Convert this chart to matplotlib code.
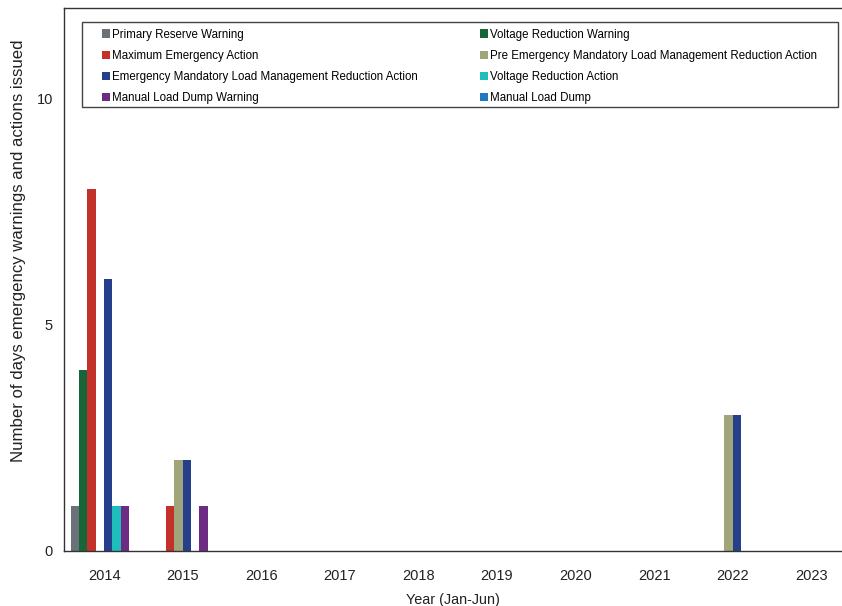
import matplotlib.pyplot as plt
from matplotlib.patches import Rectangle
import numpy as np

plt.rcParams["font.family"] = ["Liberation Sans", "DejaVu Sans"]

years = ["2014", "2015", "2016", "2017", "2018", "2019", "2020", "2021", "2022", "2023"]

series_names = [
    "Primary Reserve Warning",
    "Voltage Reduction Warning",
    "Maximum Emergency Action",
    "Pre Emergency Mandatory Load Management Reduction Action",
    "Emergency Mandatory Load Management Reduction Action",
    "Voltage Reduction Action",
    "Manual Load Dump Warning",
    "Manual Load Dump",
]

primary_reserve_warning = [1, 0, 0, 0, 0, 0, 0, 0, 0, 0]
voltage_reduction_warning = [4, 0, 0, 0, 0, 0, 0, 0, 0, 0]
maximum_emergency_action = [8, 1, 0, 0, 0, 0, 0, 0, 0, 0]
pre_emergency_lm = [0, 2, 0, 0, 0, 0, 0, 0, 3, 0]
emergency_lm = [6, 2, 0, 0, 0, 0, 0, 0, 3, 0]
voltage_reduction_action = [1, 0, 0, 0, 0, 0, 0, 0, 0, 0]
manual_load_dump_warning = [1, 1, 0, 0, 0, 0, 0, 0, 0, 0]
manual_load_dump = [0, 0, 0, 0, 0, 0, 0, 0, 0, 0]

values = [
    primary_reserve_warning,
    voltage_reduction_warning,
    maximum_emergency_action,
    pre_emergency_lm,
    emergency_lm,
    voltage_reduction_action,
    manual_load_dump_warning,
    manual_load_dump,
]

colors = ["#6b7179", "#19653a", "#c2312a", "#a0a57a", "#263f8b", "#1fbdbb", "#6d2b84", "#1f78c0"]

fig = plt.figure(figsize=(8.42, 6.06), dpi=100)
ax = fig.add_axes([0.076, 0.091, 0.924, 0.896])

x = np.arange(len(years))
bar_width = 0.106
n = len(series_names)
handles = []
for i, (name, vals) in enumerate(zip(series_names, values)):
    offset = (i - (n - 1) / 2) * bar_width
    h = ax.bar(x + offset, vals, width=bar_width, color=colors[i], label=name)
    handles.append(h)

ax.set_xlim(-0.51, 9.39)
ax.set_ylim(0, 12)
ax.set_yticks([0, 5, 10])
ax.set_xticks(x)
ax.set_xticklabels(years)
ax.tick_params(axis="both", length=0, labelsize=10.5, colors="#222222")
ax.tick_params(axis="y", pad=8)
ax.tick_params(axis="x", pad=13)
ax.spines["right"].set_visible(False)
for s in ["left", "bottom", "top"]:
    ax.spines[s].set_color("#333333")
    ax.spines[s].set_linewidth(1.0)

ax.set_xlabel("Year (Jan-Jun)", fontsize=10.4, color="#222222", labelpad=7)
ax.set_ylabel("Number of days emergency warnings and actions issued", fontsize=12.1,
              color="#222222")
ax.yaxis.set_label_coords(-0.049, 0.553)

# legend box drawn separately so the side padding can differ from the top one
ax.add_patch(Rectangle((0.0231, 0.8177), 0.9717, 0.1565, transform=ax.transAxes,
                       facecolor="white", edgecolor="#444444", linewidth=1.0,
                       zorder=4))

# legend fills column-wise, so reorder to get row-wise layout
order = [0, 2, 4, 6, 1, 3, 5, 7]
leg = ax.legend([handles[i] for i in order], [series_names[i] for i in order],
                ncol=2, loc="upper left", bbox_to_anchor=(0.0488, 0.962, 0.919, 0.0),
                mode="expand", fontsize=8.3, frameon=False,
                handlelength=0.7, handleheight=0.7,
                handletextpad=0.17, labelspacing=0.8, borderpad=0.0,
                borderaxespad=0.0)
leg.set_zorder(5)

fig.savefig("out.png", dpi=100)
